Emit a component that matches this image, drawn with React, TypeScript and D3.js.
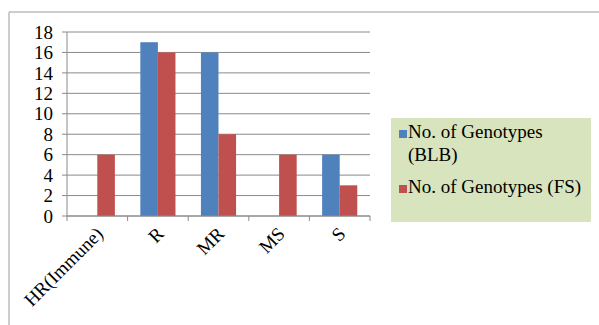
import * as d3 from "d3";

const categories = ["HR(Immune)", "R", "MR", "MS", "S"];
const blbValues = [0, 17, 16, 0, 6];
const fsValues = [6, 16, 8, 6, 3];
const yTicks = [0, 2, 4, 6, 8, 10, 12, 14, 16, 18];
const seriesNames = ["No. of Genotypes (BLB)", "No. of Genotypes (FS)"];
const seriesColors = ["#4F81BD", "#C0504D"];

export default function App() {
    const width = 599;
    const height = 325;
    const left = 67, right = 370, top = 32, bottom = 216;
    const txt = {fontFamily: "Liberation Serif, DejaVu Serif, serif", fontSize: 19, fill: "#000"};

    const x = d3.scaleBand<string>().domain(categories).range([left, right]).paddingInner(0).paddingOuter(0);
    const y = d3.scaleLinear().domain([0, 18]).range([bottom, top]);
    const bw = x.bandwidth();
    const barW = bw * 0.29;
    const series = [blbValues, fsValues];

    return <svg width={width} height={height} viewBox={`0 0 ${width} ${height}`}
                style={{position: "absolute", left: 0, top: 0, background: "#fff"}}>
        {/* frame */}
        <line x1={9} x2={599} y1={12} y2={12} stroke="#bdbdbd" strokeWidth={1.5}/>
        <line x1={9} x2={9} y1={12} y2={325} stroke="#bdbdbd" strokeWidth={1.5}/>

        {/* gridlines + y ticks */}
        {yTicks.map(t => <g key={t}>
            <line x1={left - 5} x2={right} y1={y(t)} y2={y(t)} stroke="#8a8a8a" strokeWidth={1}/>
            <text x={53} y={y(t)} dy="0.35em" textAnchor="end" style={txt}>{t}</text>
        </g>)}

        {/* bars */}
        {categories.map((c, i) => {
            const x0 = (x(c) as number) + bw / 2 - barW;
            return <g key={c}>
                {series.map((s, k) => s[i] > 0 &&
                    <rect key={k} x={x0 + k * barW} y={y(s[i])} width={barW} height={y(0) - y(s[i])}
                          fill={seriesColors[k]}/>)}
            </g>;
        })}

        {/* axes */}
        <line x1={left} x2={left} y1={top} y2={bottom} stroke="#8a8a8a"/>
        <line x1={left} x2={right} y1={bottom} y2={bottom} stroke="#8a8a8a"/>
        {categories.map(c => <line key={c} x1={x(c)} x2={x(c)} y1={bottom} y2={bottom + 5} stroke="#8a8a8a"/>)}
        <line x1={right} x2={right} y1={bottom} y2={bottom + 5} stroke="#8a8a8a"/>

        {/* category labels */}
        {categories.map(c => {
            const cx = (x(c) as number) + bw / 2 + 7;
            const cy = bottom + 19;
            return <text key={c} transform={`translate(${cx},${cy}) rotate(-45)`} textAnchor="end"
                         style={txt}>{c}</text>;
        })}

        {/* legend */}
        <rect x={391} y={118} width={200} height={104} fill="#D7E4BD"/>
        <rect x={399} y={130} width={8} height={8} fill={seriesColors[0]}/>
        <text x={408} y={138} style={txt}>No. of Genotypes</text>
        <text x={408} y={161} style={txt}>(BLB)</text>
        <rect x={399} y={185} width={8} height={8} fill={seriesColors[1]}/>
        <text x={408} y={193} style={txt}>{seriesNames[1]}</text>
    </svg>;
}
